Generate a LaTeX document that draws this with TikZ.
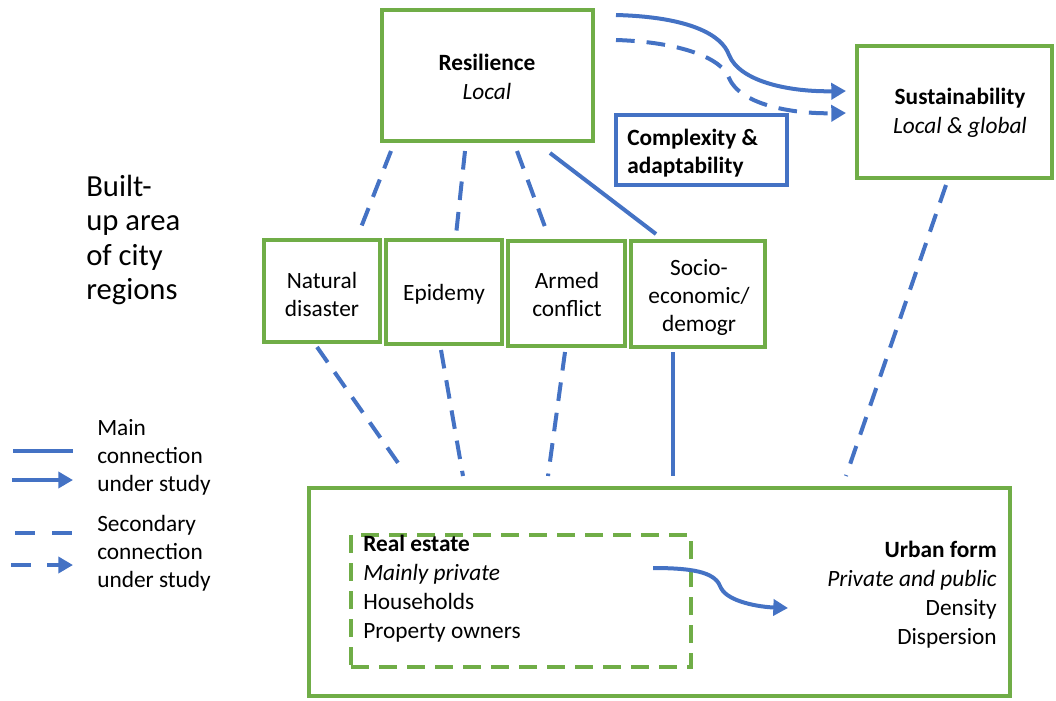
\documentclass[tikz,border=0pt]{standalone}
\usepackage{fontspec}
\setmainfont{Carlito}
\usetikzlibrary{arrows.meta,calc,fit}
\definecolor{cblue}{RGB}{68,114,196}
\definecolor{cgreen}{RGB}{112,173,71}
\begin{document}
\begin{tikzpicture}[x=0.75pt,y=-0.75pt,
  box/.style={draw=cgreen, line width=3pt, inner sep=0pt},
  bbox/.style={draw=cblue, line width=3pt, inner sep=0pt},
  txt/.style={inner sep=0pt, font=\fontsize{17.5}{21.5}\selectfont},
  main/.style={draw=cblue, line width=3pt},
  sec/.style={draw=cblue, line width=3pt, dash pattern=on 14pt off 9pt},
  tip/.style={-{Triangle[length=11pt,width=12pt]}}
]
\useasboundingbox (0,0) rectangle (1056,700);

% boxes
\node[box, fit={(382,10) (593,141)}] (res) {};
\node[txt, align=center] (rest) at (487,77) {\textbf{Resilience}\\\textit{Local}};
\node[box, fit={(857,46) (1052,178)}] (sus) {};
\node[txt, align=center] (sust) at (960,113) {\textbf{Sustainability}\\\textit{Local \& global}};
\node[bbox, fit={(616,115) (787,185)}] (cpx) {};
\node[txt, align=left, anchor=west, font=\fontsize{17.5}{21}\selectfont\bfseries] (cpxt) at (627,153) {Complexity \&\\adaptability};

\node[box, fit={(264,240) (380,342)}] (nat) {};
\node[txt, align=center, font=\fontsize{17.5}{21}\selectfont] (natt) at (322,294) {Natural\\disaster};
\node[box, fit={(386,240) (502,344)}] (epi) {};
\node[txt, align=center] (epit) at (444,294) {Epidemy};
\node[box, fit={(508,241) (625,346)}] (arm) {};
\node[txt, align=center, font=\fontsize{17.5}{21}\selectfont] (armt) at (567,294) {Armed\\conflict};
\node[box, fit={(631,241) (765,347)}] (soc) {};
\node[txt, align=center, font=\fontsize{17.5}{21}\selectfont] (soct) at (699,297) {Socio-\\economic/\\demogr};

\node[box, fit={(309,488) (1010,696)}] (urb) {};
\node[draw=cgreen, line width=3pt, dash pattern=on 13.5pt off 7.5pt, inner sep=0pt, fit={(351,535) (691,667)}] (re) {};

\node[txt, align=left, anchor=west, font=\fontsize{17.5}{21.75}\selectfont] (ret) at (363,589)
  {\textbf{Real estate}\\\textit{Mainly private}\\Households\\Property owners};
\node[txt, align=right, anchor=east, font=\fontsize{17.5}{21.75}\selectfont] (urbt) at (997,595)
  {\textbf{Urban form}\\\textit{Private and public}\\Density\\Dispersion};

\node[txt, align=left, anchor=west, font=\fontsize{23}{25.8}\selectfont] (bua) at (86,240)
  {Built-\\up area\\of city\\regions};

% top curved arrows
\draw[main, tip] ([shift={(21,7)}]res.north east) .. controls (690,17) and (722,35) .. (729,55)
  .. controls (740,82) and (790,92) .. ([shift={(-9,47)}]sus.north west);
\draw[sec, tip] ([shift={(21,32)}]res.north east) .. controls (680,42) and (722,58) .. (729,78)
  .. controls (740,104) and (790,114) .. ([shift={(-9,69)}]sus.north west);

% resilience to challenges
\draw[sec] ([shift={(11,8)}]res.south west) -- ([shift={(96,-3)}]nat.north west);
\draw[sec] ([shift={(85,8)}]res.south west) -- ([shift={(72,-3)}]epi.north west);
\draw[sec] ([shift={(137,8)}]res.south west) -- ([shift={(42,-4)}]arm.north west);
\draw[main] ([shift={(170,10)}]res.south west) -- ([shift={(27,-5)}]soc.north west);

% challenges to urban box
\draw[sec] ([shift={(55,3)}]nat.south west) -- ([shift={(96,-16)}]urb.north west);
\draw[sec] ([shift={(57,4)}]epi.south west) -- ([shift={(156,-10)}]urb.north west);
\draw[sec] ([shift={(59,4)}]arm.south west) -- ([shift={(241,-10)}]urb.north west);
\draw[main] ([shift={(44,3)}]soc.south west) -- ([shift={(366,-10)}]urb.north west);
\draw[sec] ([shift={(91,5)}]sus.south west) -- ([shift={(539,-10)}]urb.north west);

% inner arrow
\coordinate (ra) at (653,568);
\coordinate (rb) at (788,608);
\draw[main, tip] (ra) .. controls (700,568) and (716,574) .. (721,588)
  .. controls (728,602) and (760,607) .. (rb);

% legend
\coordinate (l1a) at (13,451); \coordinate (l1b) at (73,451);
\coordinate (l2a) at (12,480); \coordinate (l2b) at (73,480);
\coordinate (l3a) at (15,533); \coordinate (l3b) at (73,533);
\coordinate (l4a) at (11,565); \coordinate (l4b) at (73,565);
\draw[main] (l1a) -- (l1b);
\draw[main, tip] (l2a) -- (l2b);
\draw[main, dash pattern=on 15pt off 12.75pt] (l3a) -- (l3b);
\draw[main, tip, dash pattern=on 15pt off 12pt] (l4a) -- (l4b);
\node[txt, align=left, anchor=west, font=\fontsize{17.5}{21}\selectfont] (lg1) at (97,457) {Main\\connection\\under study};
\node[txt, align=left, anchor=west, font=\fontsize{17.5}{21}\selectfont] (lg2) at (97,553) {Secondary\\connection\\under study};
\end{tikzpicture}
\end{document}
